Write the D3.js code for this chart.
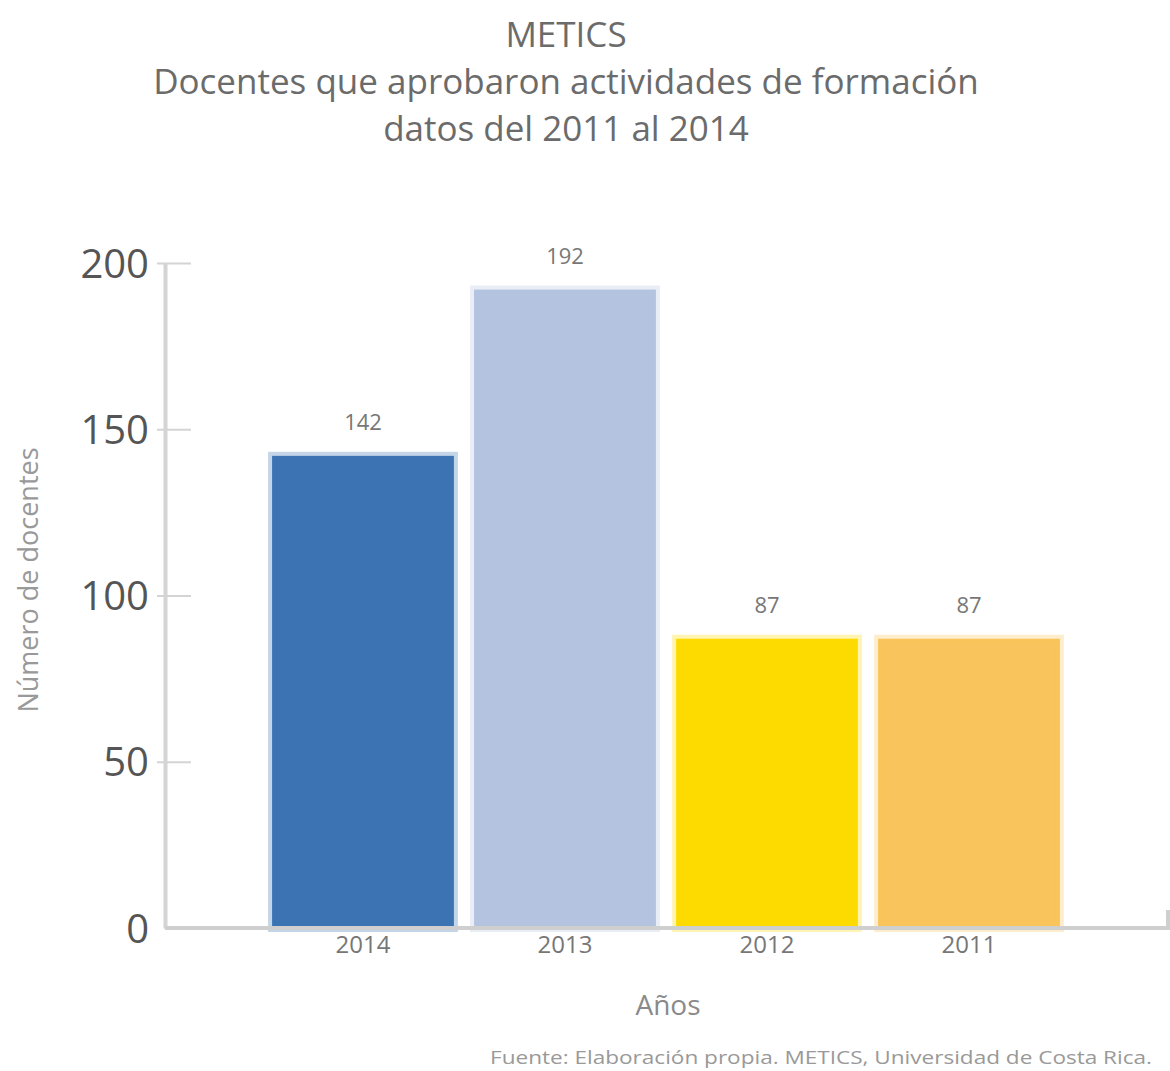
<!DOCTYPE html>
<html><head><meta charset="utf-8">
<script src="https://cdn.jsdelivr.net/npm/d3@7"></script>
<style>body{margin:0;background:#fff;font-family:"Open Sans",sans-serif}</style>
</head><body><svg id="c" width="1170" height="1071"></svg>
<script>
const years = ["2014","2013","2012","2011"];
const values = [142,192,87,87];
const colors = ["#3b73b3","#b3c3e0","#fedb00","#f9c45b"];
const yTicks = [0,50,100,150,200];
const titleLines = ["METICS","Docentes que aprobaron actividades de formación","datos del 2011 al 2014"];

const svg = d3.select("#c");
const m = {left:165, right:1168, top:263, bottom:928};
const x = d3.scaleBand().domain(years).range([262,1070]).paddingInner(0.1).paddingOuter(0.05);
const y = d3.scaleLinear().domain([0,200]).range([m.bottom,m.top]);

// title
svg.selectAll("text.t").data(titleLines).join("text")
  .attr("x",566).attr("y",(d,i)=>[47,94,141][i])
  .attr("text-anchor","middle").attr("font-size",35).attr("fill","#6b6b6b").text(d=>d);

// bars
svg.selectAll("rect.b").data(values).join("rect")
  .attr("x",(d,i)=>x(years[i])).attr("width",x.bandwidth())
  .attr("y",d=>y(d)).attr("height",d=>m.bottom-y(d))
  .attr("fill",(d,i)=>colors[i])
  .attr("stroke",(d,i)=>colors[i]).attr("stroke-opacity",0.3).attr("stroke-width",8);

// value labels
svg.selectAll("text.v").data(values).join("text")
  .attr("x",(d,i)=>x(years[i])+x.bandwidth()/2).attr("y",d=>y(d)-26)
  .attr("text-anchor","middle").attr("font-size",22).attr("fill","#777").text(d=>d);

// y axis
const ya = svg.append("g").attr("transform",`translate(${m.left},0)`)
  .call(d3.axisLeft(y).tickValues(yTicks).tickSize(-26).tickSizeOuter(0));
ya.select(".domain").attr("stroke","#d4d4d4").attr("stroke-width",4);
ya.selectAll(".tick line").attr("stroke","#d4d4d4").attr("stroke-width",2).attr("x1",-8);
ya.selectAll(".tick text").attr("font-size",40).attr("fill","#555").attr("font-family","Open Sans").attr("dy","0.35em").attr("x",-16);
ya.selectAll(".tick").filter(d=>d===0).select("line").remove();

// x axis
const xa = svg.append("g").attr("transform",`translate(0,${m.bottom})`)
  .call(d3.axisBottom(x).tickSize(0).tickPadding(8));
xa.select(".domain").attr("d",`M${m.left},0H${m.right}V-18`).attr("stroke","#cfcfcf").attr("stroke-width",4).attr("fill","none");
xa.selectAll(".tick text").attr("font-size",24).attr("fill","#777").attr("font-family","Open Sans");

// axis titles
svg.append("text").attr("x",668).attr("y",1015).attr("text-anchor","middle")
  .attr("font-size",28).attr("fill","#8a8a8a").text("Años");
svg.append("text").attr("transform","translate(38,580) rotate(-90)").attr("text-anchor","middle")
  .attr("font-size",27).attr("fill","#999").text("Número de docentes");

// source
svg.append("text").attr("x",1152).attr("y",1064).attr("text-anchor","end")
  .attr("font-size",19).attr("textLength",662).attr("lengthAdjust","spacingAndGlyphs")
  .attr("fill","#999").text("Fuente: Elaboración propia. METICS, Universidad de Costa Rica.");
</script></body></html>
